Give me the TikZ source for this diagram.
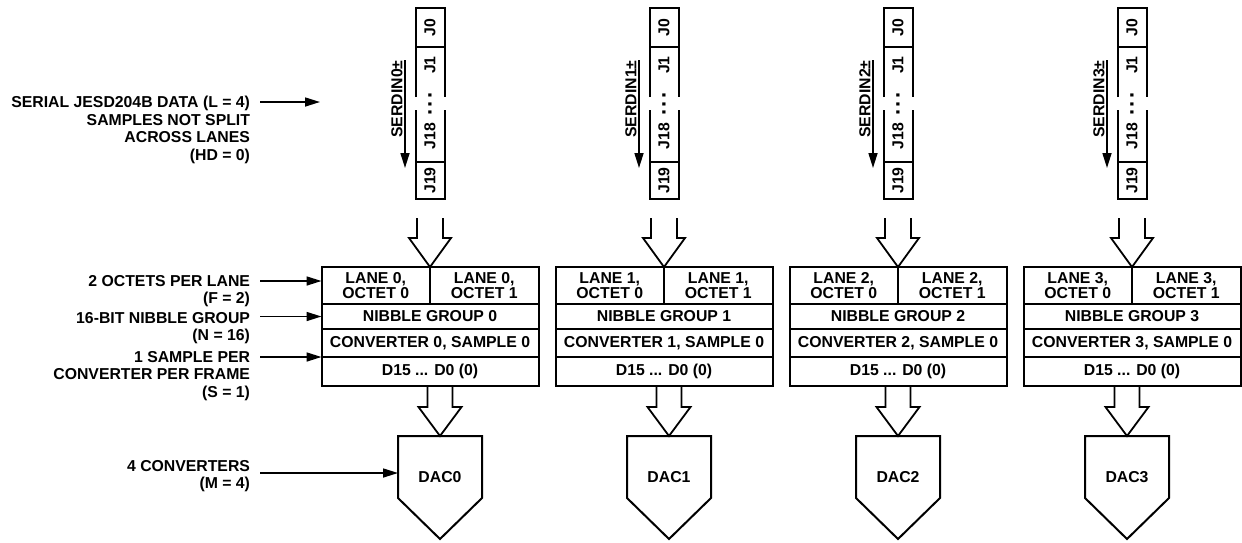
\documentclass[tikz,border=0pt]{standalone}
\usepackage{fontspec}
\setmainfont{Liberation Sans}
\usetikzlibrary{arrows.meta, positioning, calc}

\begin{document}
\begin{tikzpicture}[x=1pt, y=-1pt]
    \tikzstyle{txt} = [font=\fontsize{15.8}{15.5}\selectfont\bfseries, inner sep=0pt, outer sep=0pt]
    \tikzstyle{lbl} = [txt, align=right, anchor=east, font=\fontsize{15.8}{17.5}\selectfont\bfseries]
    \tikzstyle{cell} = [txt, rectangle, draw, line width=1.2pt, align=center]
    \tikzstyle{jtxt} = [txt, rotate=90]
    \tikzstyle{dots} = [jtxt, font=\fontsize{22}{22}\selectfont\bfseries]
    \tikzstyle{line} = [draw, line width=2pt]
    \tikzstyle{ptr} = [draw, line width=1.6pt, -{Triangle[length=15pt, width=9pt]}]
    \tikzstyle{fat} = [draw, line width=1.8pt, fill=white, miter limit=10]

    \useasboundingbox (0,0) rectangle (1242,542);

    % labels on the left
    \node [lbl] (lserial) at (250,130) {SERIAL JESD204B DATA (L = 4)\\SAMPLES NOT SPLIT\\ACROSS LANES\\(HD = 0)};
    \node [lbl] (loctet) at (250,291) {2 OCTETS PER LANE\\(F = 2)};
    \node [lbl] (lnibble) at (250,328) {16-BIT NIBBLE GROUP\\(N = 16)};
    \node [lbl] (lsample) at (250,376) {1 SAMPLE PER\\CONVERTER PER FRAME\\(S = 1)};
    \node [lbl] (lconv) at (250,476) {4 CONVERTERS\\(M = 4)};

    \foreach \i [evaluate=\i as \cx using 430+234*\i, evaluate=\i as \dx using 440+229*\i] in {0,...,3} {
        % serial lane
        \node [jtxt] (jz\i) at (\cx,27.5) {J0};
        \node [jtxt] (jo\i) at (\cx,65) {J1};
        \node [dots] (jd\i) at (\cx,104) {.\hspace{2pt}.\hspace{2pt}.};
        \node [jtxt] (je\i) at (\cx,136) {J18};
        \node [jtxt] (jn\i) at (\cx,180.5) {J19};
        \path [line] ({\cx-14.5},97) -- ({\cx-14.5},8) -- ({\cx+14.5},8) -- ({\cx+14.5},97);
        \path [line] ({\cx-14.5},47) -- ({\cx+14.5},47);
        \path [line] ({\cx-14.5},110) -- ({\cx-14.5},199) -- ({\cx+14.5},199) -- ({\cx+14.5},110);
        \path [line] ({\cx-14.5},162) -- ({\cx+14.5},162);
        \node [jtxt] (serdin\i) at ({\cx-33},99) {SERDIN\i±};
        \coordinate (sa\i) at ({\cx-25},60);
        \coordinate (sb\i) at ({\cx-25},168);
        \path [ptr] (sa\i) -- (sb\i);
        %
        \node [cell, minimum width=108.5pt, minimum height=37pt, anchor=north east] (la\i) at (\cx,267) {LANE \i,\\OCTET 0};
        \node [cell, minimum width=108.5pt, minimum height=37pt, anchor=north west] (lb\i) at (\cx,267) {LANE \i,\\OCTET 1};
        \node [cell, minimum width=217pt, minimum height=25pt, anchor=north] (nib\i) at (la\i.south east) {NIBBLE GROUP \i};
        \node [cell, minimum width=217pt, minimum height=28pt, anchor=north] (conv\i) at (nib\i.south) {CONVERTER \i, SAMPLE 0};
        \node [cell, minimum width=217pt, minimum height=29pt, anchor=north] (dat\i) at (conv\i.south) {D15 ... D0 (0)};
        %
        \node [txt] (dac\i) at (\dx,477) {DAC\i};
        \coordinate (dtop\i) at ($(dac\i)+(0,-41)$);
        \path [fat] ($(la\i.north east)+(-13,-49)$) -- ++(0,20) -- ++(-8,0) -- (la\i.north east)
            -- ($(la\i.north east)+(21,-29)$) -- ++(-8,0) -- ++(0,-20);
        \path [fat] ($(dat\i.south -| dtop\i)+(-12.5,0)$) -- ++(0,21) -- ++(-9,0) -- (dtop\i)
            -- ($(dtop\i)+(21.5,-29)$) -- ++(-9,0) -- ++(0,-21);
        \path [line] (la\i.north west) rectangle (dat\i.south east);
        \path [line, line join=miter] ($(dac\i)+(-42,-41)$) -- ($(dac\i)+(42,-41)$) -- ($(dac\i)+(42,21)$)
            -- ($(dac\i)+(0,62)$) -- ($(dac\i)+(-42,21)$) -- cycle;
    }

    % arrows from the labels
    \coordinate (lane0) at (320,102);
    \coordinate (dacin) at ($(dac0)+(-42,-4)$);
    \path [ptr] ($(lserial.east |- lane0)+(10,0)$) -- (lane0);
    \path [ptr] ($(loctet.east |- la0.west)+(10,-4.5)$) -- ($(la0.west)+(0,-4.5)$);
    \path [ptr] ($(lnibble.east |- nib0.west)+(10,0)$) -- (nib0.west);
    \path [ptr] ($(lsample.east |- conv0.south west)+(10,0)$) -- (conv0.south west);
    \path [ptr] ($(lconv.east |- dacin)+(10,0)$) -- (dacin);

\end{tikzpicture}
\end{document}
